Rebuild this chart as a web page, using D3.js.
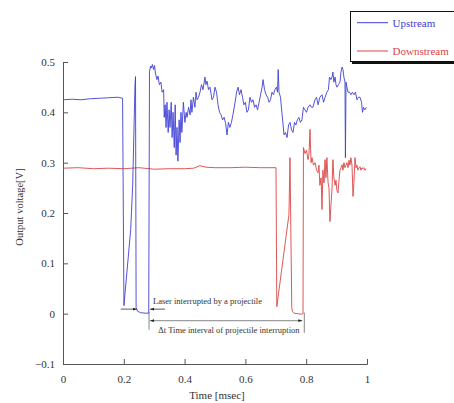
<!DOCTYPE html>
<html><head><meta charset="utf-8">
<script src="https://cdn.jsdelivr.net/npm/d3@7"></script>
<style>
html,body{margin:0;padding:0;background:#fff;}
svg{display:block;font-family:"Liberation Serif","Times New Roman",serif;}
</style></head>
<body><svg id="chart" width="454" height="403"></svg>
<script>
// ---- Data (time in msec, voltage in V) ----
const upTime = [0,0.03,0.06,0.09,0.12,0.15,0.18,0.196,0.2005,0.2227,0.2293,0.2368,0.2385,0.2405,0.245,0.255,0.27,0.282,
0.2845,0.288,0.291,0.294,0.298,0.301,0.304,0.309,0.3125,0.317,0.322,0.326,0.331,0.333,0.336,0.339,0.342,0.346,0.349,0.352,0.356,0.359,0.362,0.366,0.369,0.372,0.375,0.378,0.382,0.385,0.388,0.391,0.396,0.401,0.405,0.408,0.413,0.418,0.421,0.424,0.429,0.434,0.4375,0.441,0.4457,0.4507,0.4556,0.4605,0.467,0.470,0.474,0.4786,0.4836,0.49,0.495,0.5,0.505,0.51,0.515,0.52,0.525,0.53,0.535,0.5395,0.544,0.549,0.554,0.559,0.566,0.571,0.576,0.5806,0.5855,0.5905,0.595,0.600,0.605,0.610,0.615,0.620,0.625,0.630,0.635,0.640,0.645,0.650,0.655,0.658,0.663,0.668,0.673,0.678,0.6826,0.6875,0.6924,0.697,0.702,0.7056,0.708,0.7105,0.7155,0.720,0.724,0.727,0.732,0.737,0.742,0.747,0.7516,0.7566,0.7615,0.766,0.771,0.776,0.781,0.786,0.791,0.796,0.801,0.806,0.8125,0.8174,0.822,0.829,0.834,0.839,0.845,0.852,0.857,0.862,0.868,0.873,0.8766,0.8816,0.885,0.888,0.891,0.895,0.898,0.901,0.906,0.911,0.9145,0.918,0.921,0.924,0.9276,0.929,0.931,0.934,0.9375,0.9425,0.947,0.952,0.957,0.962,0.967,0.972,0.977,0.982,0.9852,0.9885,0.993,0.998];
const upVolt = [0.425,0.426,0.425,0.427,0.428,0.429,0.430,0.428,0.016,0.167,0.256,0.455,0.471,0.012,0.005,0.002,0.001,0.001,
0.480,0.492,0.488,0.495,0.485,0.493,0.478,0.465,0.472,0.455,0.46,0.44,0.445,0.39,0.415,0.37,0.42,0.36,0.405,0.37,0.42,0.35,0.40,0.33,0.415,0.315,0.37,0.303,0.385,0.34,0.40,0.36,0.42,0.38,0.40,0.39,0.41,0.395,0.425,0.40,0.43,0.41,0.44,0.425,0.43,0.44,0.455,0.445,0.47,0.455,0.462,0.445,0.45,0.425,0.43,0.45,0.44,0.415,0.40,0.395,0.385,0.39,0.378,0.355,0.38,0.37,0.38,0.395,0.42,0.44,0.45,0.435,0.445,0.43,0.415,0.42,0.40,0.405,0.43,0.42,0.425,0.41,0.415,0.405,0.42,0.435,0.45,0.465,0.445,0.435,0.43,0.42,0.425,0.44,0.435,0.445,0.45,0.44,0.485,0.44,0.43,0.40,0.375,0.355,0.36,0.35,0.375,0.38,0.365,0.36,0.38,0.375,0.385,0.39,0.38,0.385,0.41,0.405,0.40,0.41,0.415,0.41,0.41,0.425,0.43,0.415,0.43,0.435,0.42,0.43,0.44,0.445,0.47,0.465,0.47,0.48,0.46,0.47,0.455,0.45,0.455,0.46,0.48,0.49,0.485,0.47,0.46,0.31,0.46,0.45,0.44,0.44,0.435,0.44,0.435,0.44,0.425,0.43,0.43,0.42,0.40,0.41,0.405,0.41];

const downTime = [0,0.05,0.1,0.15,0.2,0.25,0.3,0.35,0.4,0.43,0.45,0.47,0.5,0.55,0.6,0.65,0.7007,0.7033,0.7433,0.7467,0.7525,0.755,0.76,0.77,0.785,0.7895,
0.791,0.796,0.801,0.806,0.809,0.8125,0.816,0.819,0.824,0.829,0.834,0.839,0.842,0.845,0.849,0.852,0.855,0.8586,0.862,0.865,0.868,0.872,0.875,0.878,0.882,0.885,0.888,0.891,0.895,0.898,0.901,0.9046,0.908,0.911,0.9145,0.918,0.921,0.924,0.9276,0.931,0.934,0.9375,0.941,0.944,0.947,0.9507,0.954,0.957,0.9605,0.964,0.967,0.970,0.974,0.977,0.980,0.9836,0.987,0.990,0.9934,0.9967];
const downVolt = [0.289,0.290,0.288,0.289,0.288,0.290,0.287,0.288,0.288,0.289,0.294,0.291,0.290,0.290,0.291,0.290,0.290,0.014,0.197,0.31,0.012,0.004,0.001,0.0,-0.001,0.0,
0.33,0.318,0.325,0.306,0.315,0.366,0.30,0.31,0.295,0.30,0.285,0.28,0.295,0.255,0.27,0.207,0.285,0.26,0.306,0.27,0.31,0.26,0.25,0.183,0.22,0.25,0.306,0.27,0.255,0.265,0.245,0.24,0.265,0.285,0.29,0.296,0.285,0.30,0.29,0.295,0.30,0.29,0.305,0.295,0.31,0.295,0.233,0.26,0.31,0.29,0.295,0.285,0.29,0.292,0.285,0.29,0.288,0.29,0.285,0.288];

const xTicks = [0,0.2,0.4,0.6,0.8,1];
const yTicks = [-0.1,0,0.1,0.2,0.3,0.4,0.5];
const seriesNames = ["Upstream","Downstream"];
const xTitle = "Time [msec]";
const yTitle = "Output voltage[V]";
const noteLaser = "Laser interrupted by a projectile";
const noteDelta = "\u0394t Time interval of projectile interruption";
// annotation anchors in data units
const upRecover = 0.283, downRecover = 0.7905, upDrop = 0.2424;

// ---- Drawing ----
const colors = ["#4040d4","#dc4444"];
const svg = d3.select("#chart");
const x = d3.scaleLinear().domain([0,1]).range([63,367]);
const y = d3.scaleLinear().domain([-0.1,0.5]).range([364,62]);
const axisColor = "#555", textColor = "#333";
const serif = "'Liberation Serif','Times New Roman',serif";

const gx = svg.append("g").attr("transform",`translate(0,${y(-0.1)})`)
  .call(d3.axisBottom(x).tickValues(xTicks).tickSize(-5).tickPadding(11).tickFormat(d3.format("")));
const gy = svg.append("g").attr("transform",`translate(${x(0)},0)`)
  .call(d3.axisLeft(y).tickValues(yTicks).tickSize(-5).tickPadding(8).tickFormat(d=>d3.format("")(+d.toFixed(1))));
[gx,gy].forEach(g=>{
  g.attr("font-family",serif).attr("font-size",11);
  g.selectAll("path.domain").attr("stroke",axisColor).attr("stroke-width",1);
  g.selectAll(".tick line").attr("stroke",axisColor);
  g.selectAll(".tick text").attr("fill",textColor);
});

svg.append("text").attr("x",(x(0)+x(1))/2+2).attr("y",399).attr("text-anchor","middle")
  .attr("fill",textColor).style("font-size","11px").text(xTitle);
svg.append("text").attr("transform",`translate(23,${y(0.2)-6}) rotate(-90)`).attr("text-anchor","middle")
  .attr("fill",textColor).style("font-size","10.5px").text(yTitle);

const line = d3.line().x(d=>x(d[0])).y(d=>y(d[1]));
const upData = d3.zip(upTime, upVolt), downData = d3.zip(downTime, downVolt);
svg.append("path").datum(downData).attr("d",line).attr("fill","none").attr("stroke",colors[1]).attr("stroke-width",0.9);
svg.append("path").datum(upData).attr("d",line).attr("fill","none").attr("stroke",colors[0]).attr("stroke-width",0.9);

// arrowheads
const defs = svg.append("defs");
defs.append("marker").attr("id","ah").attr("viewBox","0 0 10 10").attr("refX",10).attr("refY",5)
  .attr("markerWidth",5).attr("markerHeight",5).attr("orient","auto-start-reverse")
  .append("path").attr("d","M0,1.5L10,5L0,8.5Z").attr("fill","#222");

const annC = "#333";
const aY = y(0.009);
svg.append("line").attr("x1",x(0.19)).attr("x2",x(upDrop)).attr("y1",aY).attr("y2",aY)
  .attr("stroke",annC).attr("stroke-width",0.8).attr("marker-end","url(#ah)");
svg.append("line").attr("x1",x(0.3355)).attr("x2",x(upRecover)+1).attr("y1",aY).attr("y2",aY)
  .attr("stroke",annC).attr("stroke-width",0.8).attr("marker-end","url(#ah)");
svg.append("text").attr("x",x(0.296)).attr("y",y(0.02)).attr("fill",textColor)
  .style("font-size","8.5px").text(noteLaser);

const dY = y(-0.014);
svg.append("line").attr("x1",x(upRecover)+1).attr("x2",x(downRecover)-1).attr("y1",dY).attr("y2",dY)
  .attr("stroke","#666").attr("stroke-width",0.8).attr("marker-start","url(#ah)").attr("marker-end","url(#ah)");
svg.append("line").attr("x1",x(upRecover)).attr("x2",x(upRecover)).attr("y1",y(0.004)).attr("y2",y(-0.032))
  .attr("stroke","#666").attr("stroke-width",0.8);
svg.append("line").attr("x1",x(downRecover)+1).attr("x2",x(downRecover)+1).attr("y1",y(0.002)).attr("y2",y(-0.038))
  .attr("stroke","#666").attr("stroke-width",0.8);
svg.append("text").attr("x",x(0.546)).attr("y",y(-0.039)).attr("text-anchor","middle").attr("fill",textColor)
  .style("font-size","8.5px").text(noteDelta);

// legend
const lg = svg.append("g");
lg.append("rect").attr("x",352).attr("y",14).attr("width",120).attr("height",50).attr("fill","#111");
lg.append("rect").attr("x",350.5).attr("y",11.5).attr("width",120).attr("height",50).attr("fill","#fff").attr("stroke","#111").attr("stroke-width",1);
seriesNames.forEach((n,i)=>{
  const ly = 22.7 + i*28.3;
  lg.append("line").attr("x1",357).attr("x2",388).attr("y1",ly).attr("y2",ly).attr("stroke",colors[i]).attr("stroke-width",1);
  lg.append("text").attr("x",392.5).attr("y",ly+3.8).attr("fill",colors[i]).style("font-size","11px").text(n);
});
</script></body></html>
